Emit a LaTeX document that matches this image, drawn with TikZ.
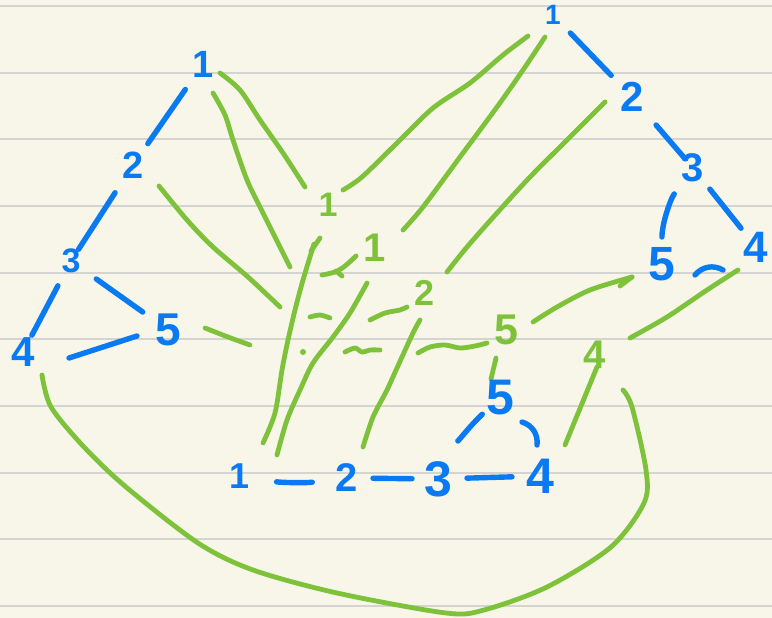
\documentclass[tikz,border=0pt]{standalone}
\usepackage{fontspec}
\setmainfont{Liberation Sans}
\newfontfamily\penfont{Liberation Sans Bold}
\definecolor{paper}{HTML}{F8F6E8}
\definecolor{rule}{HTML}{D4D4D2}
\definecolor{penblue}{HTML}{0A7AF2}
\definecolor{pengreen}{HTML}{7DC23A}
\begin{document}
\begin{tikzpicture}[x=1pt,y=-1pt,
  bl/.style={text=penblue, font=\penfont\fontsize{#1}{#1}\selectfont, inner sep=0pt},
  bl/.default=40,
  gl/.style={text=pengreen, font=\penfont\fontsize{#1}{#1}\selectfont, inner sep=0pt},
  gl/.default=40,
  be/.style={draw=penblue, line width=5.4pt, line cap=round, line join=round},
  ge/.style={draw=pengreen, line width=4.8pt, line cap=round, line join=round},
  ruling/.style={draw=rule, line width=1.4pt}
]
\fill[paper] (0,0) rectangle (772,618);
\useasboundingbox (0,0) rectangle (772,618);
\foreach \yy in {6,73,139,206,273,339,406,473,539,606}
  \draw[ruling] (0,\yy) -- (772,\yy);

% ---------- green mapping strokes ----------
\draw[ge] plot[smooth] coordinates {(220,73) (240,90) (260,120) (283,153) (305,187)};
\draw[ge] plot[smooth] coordinates {(213,93) (225,115) (233,140) (247,180) (263,213) (290,267)};
\draw[ge] plot[smooth] coordinates {(159,186) (187,220) (213,247) (248,277) (280,307)};
\draw[ge] plot[smooth] coordinates {(205,328) (228,337) (250,345)};
\draw[ge] (320,238) -- (311,251);
\draw[ge] plot[smooth] coordinates {(314,244) (303,280) (295,310) (288,340) (282,370) (275,413) (263,443)};
\draw[ge] plot[smooth] coordinates {(367,283) (350,313) (333,337) (313,363) (300,390) (287,420) (277,455)};
\draw[ge] plot[smooth] coordinates {(420,320) (413,333) (397,368) (387,390) (373,417) (363,447)};
\draw[ge] plot[smooth] coordinates {(447,272) (467,247) (497,213) (530,177) (567,140) (605,102)};
\draw[ge] plot[smooth] coordinates {(403,230) (423,207) (460,157) (497,107) (523,70) (545,37)};
\draw[ge] plot[smooth] coordinates {(343,190) (362,177) (397,143) (433,108) (470,83) (503,55) (528,36)};
\draw[ge] plot[smooth] coordinates {(533,322) (557,307) (590,290) (632,277)};
\draw[ge] (632,277) -- (620,286);
\draw[ge] plot[smooth] coordinates {(630,338) (667,317) (707,290) (738,270)};
\draw[ge] (597,367) -- (565,445);
\draw[ge] plot[smooth] coordinates {(42,375) (51,407) (84,447) (126,487) (198,543) (253,570) (337,593) (446,613) (484,610) (547,587) (611,547) (644,503) (646,470) (632,407) (623,390)};
% green middle dashes
\draw[ge] plot[smooth] coordinates {(322,275) (335,272) (345,266) (356,256)};
\draw[ge] (336,271) -- (342,276);
\draw[ge] plot[smooth] coordinates {(310,317) (320,315) (330,318)};
\draw[ge] plot[smooth] coordinates {(370,320) (385,313) (400,310) (407,307)};
\fill[pengreen] (303,352) circle (3pt);
\draw[ge] plot[smooth] coordinates {(345,352) (355,348) (362,352) (370,350) (380,350)};
\draw[ge] plot[smooth] coordinates {(418,353) (430,347) (445,345) (460,348) (475,346) (487,343)};
\draw[ge] (496,358) -- (491,379);

% ---------- green labels ----------
\node[gl=34] (GA) at (328,205) {1};
\node[gl=40] (GB) at (375,248) {1};
\node[gl=36] (GC) at (425,293) {2};
\node[gl=43] (GD) at (506,330) {5};
\node[gl=40] (GE) at (595,355) {4};

% ---------- left blue graph ----------
\node[bl=38] (L1) at (203,64) {1};
\node[bl=38] (L2) at (133,165) {2};
\node[bl=34] (L3) at (71,261) {3};
\node[bl=42] (L4) at (23,352) {4};
\node[bl=46] (L5) at (168,330) {5};
\draw[be, shorten <=31pt, shorten >=26pt] (L1.center) -- (L2.center);
\draw[be, shorten <=33pt, shorten >=14pt] (L2.center) -- (L3.center);
\draw[be, shorten <=28pt, shorten >=19pt] (L3.center) -- (L4.center);
\draw[be, shorten <=31pt, shorten >=31pt] (L3.center) -- (L5.center);
\draw[be] ([shift={(46pt,-6pt)}]L4.center) -- ([shift={(-31pt,-6pt)}]L5.center);

% ---------- right blue graph ----------
\node[bl=28] (R1) at (553,15) {1};
\node[bl=42] (R2) at (632,97) {2};
\node[bl=40] (R3) at (693,168) {3};
\node[bl=44] (R4) at (756,247) {4};
\node[bl=48] (R5) at (662,264) {5};
\draw[be, shorten <=25pt, shorten >=30pt] (R1.center) -- (R2.center);
\draw[be, shorten <=37pt, shorten >=12pt] (R2.center) -- (R3.center);
\draw[be, shorten <=27pt, shorten >=24pt] (R3.center) -- (R4.center);
\draw[be, shorten <=32pt, shorten >=27pt] (R3.center) to[bend right=18] (R5.center);
\draw[be] ([shift={(33pt,-11pt)}]R5.center) to[bend left=40] ([shift={(-33pt,-23pt)}]R4.center);

% ---------- bottom blue graph ----------
\node[bl=36] (B1) at (240,476) {1};
\node[bl=40] (B2) at (347,478) {2};
\node[bl=50] (B3) at (438,479) {3};
\node[bl=50] (B4) at (540,476) {4};
\node[bl=50] (B5) at (500,398) {5};
\draw[be, shorten <=37pt, shorten >=35pt] (B1.center) to[bend right=8] (B2.center);
\draw[be, shorten <=26pt, shorten >=26pt] (B2.center) -- (B3.center);
\draw[be, shorten <=29pt, shorten >=28pt] (B3.center) -- (B4.center);
\draw[be, shorten <=43pt, shorten >=24pt] (B3.center) to[bend left=10] (B5.center);
\draw[be] ([shift={(22pt,-24pt)}]B5.center) to[bend left=40] ([shift={(-3pt,31pt)}]B4.center);
\end{tikzpicture}
\end{document}
